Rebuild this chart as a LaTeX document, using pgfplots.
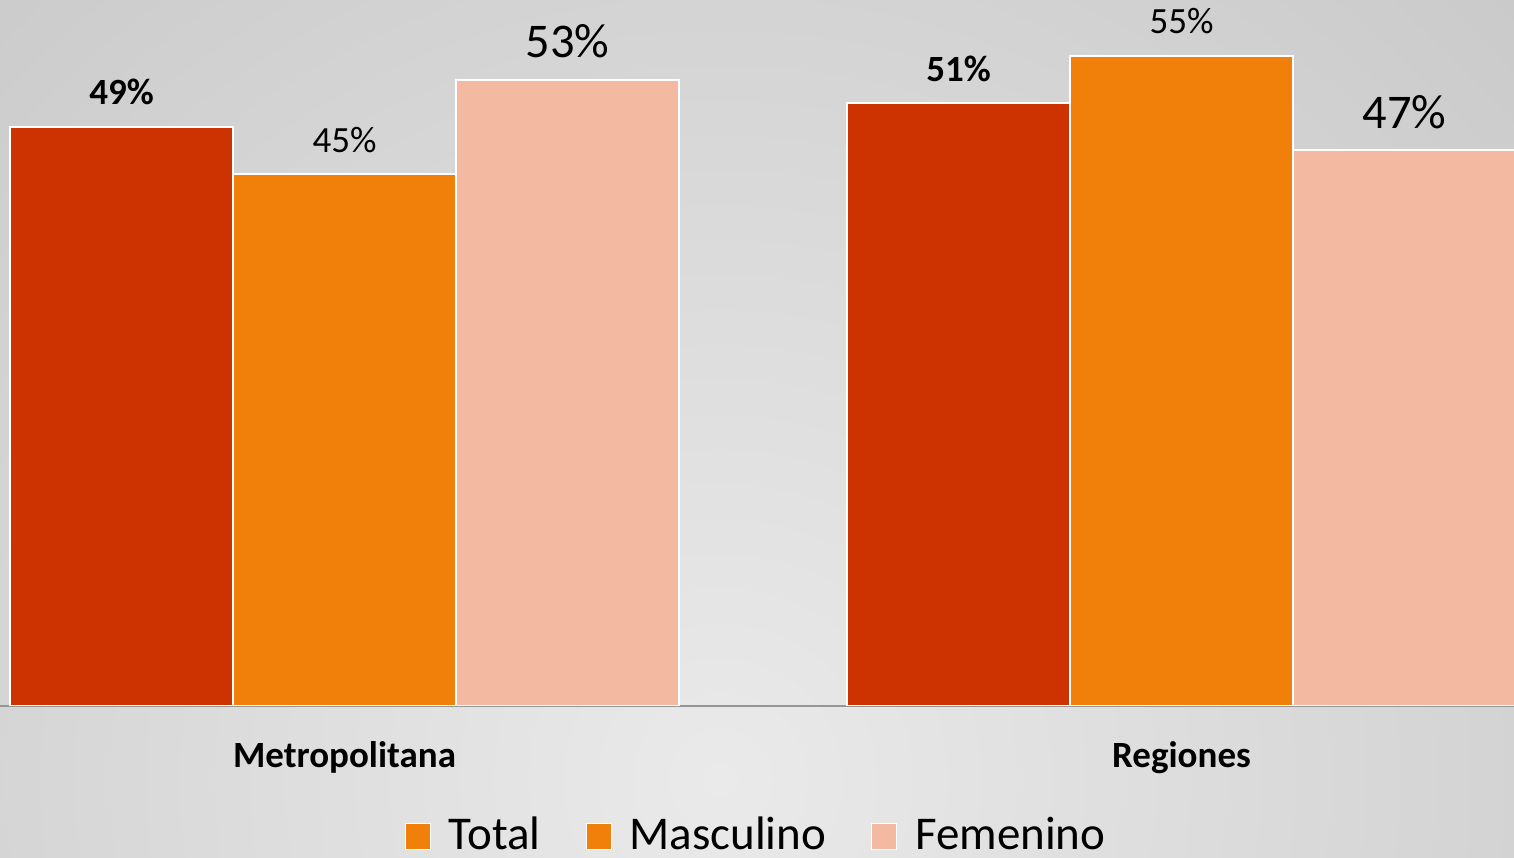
\documentclass[border=0pt]{standalone}
\usepackage{pgfplots}
\pgfplotsset{compat=1.18}
\usepackage{fontspec}
\setmainfont{Carlito}
\definecolor{ctotal}{RGB}{204,51,0}
\definecolor{cmasc}{RGB}{240,128,10}
\definecolor{cfem}{RGB}{244,185,161}
\definecolor{cbase}{RGB}{150,150,150}
\begin{document}
\begin{tikzpicture}[x=0.5pt,y=0.5pt]
\useasboundingbox (0,0) rectangle (1514,857);
\begin{scope}
\clip (0,0) rectangle (1514,857);
\shade[inner color={rgb,255:red,234;green,234;blue,234}, outer color={rgb,255:red,168;green,168;blue,168}] (720,77) circle (2300);
\end{scope}
\begin{axis}[
  at={(0,128)}, anchor=south west,
  scale only axis, width=757pt, height=352.5pt,
  xmin=0, xmax=1514, ymin=0, ymax=59.67,
  axis y line=none, axis x line*=bottom,
  x axis line style={draw=cbase, line width=1pt, -},
  xtick={344.5,1181.5}, xticklabels={Metropolitana,Regiones},
  major tick length=0pt,
  xticklabel style={font=\fontsize{18.5}{22}\selectfont\bfseries, anchor=base, inner sep=0pt, yshift=-31pt},
  ybar, bar width=111.5pt, bar shift=0pt,
  nodes near coords={\pgfmathprintnumber{\pgfplotspointmeta}\%},
  every node near coord/.style={anchor=base, inner sep=0pt, yshift=11pt, text=black},
  /pgf/number format/assume math mode=true,
  legend columns=3,
  legend cell align=left,
  legend style={at={(0.5,-0.183)}, anchor=center, draw=none, fill=none,
    font=\fontsize{23.5}{28}\selectfont, inner sep=0pt,
    /tikz/every odd column/.append style={column sep=7pt},
    /tikz/every even column/.append style={column sep=20.5pt}},
  legend image code/.code={\draw[#1, draw=white, line width=0.5pt] (0pt,-7.5pt) rectangle (12.5pt,5.5pt);},
]
\addplot[fill=ctotal, draw=white, line width=1pt,
  legend image post style={fill=cmasc},
  every node near coord/.append style={font=\fontsize{18.5}{22}\selectfont\bfseries}]
  coordinates {(121.5,49) (958.5,51)};
\addplot[fill=cmasc, draw=white, line width=1pt,
  every node near coord/.append style={font=\fontsize{18.5}{22}\selectfont}]
  coordinates {(344.5,45) (1181.5,55)};
\addplot[fill=cfem, draw=white, line width=1pt,
  every node near coord/.append style={font=\fontsize{24.2}{28}\selectfont}]
  coordinates {(567.5,53) (1404.5,47)};
\legend{Total,Masculino,Femenino}
\end{axis}
\end{tikzpicture}
\end{document}
